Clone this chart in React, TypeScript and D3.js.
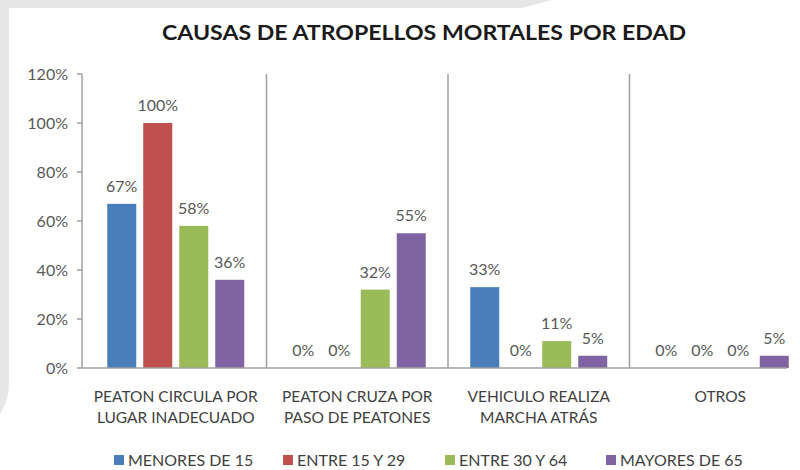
import React, { useEffect } from "react";
import * as d3 from "d3";

const TITLE = "CAUSAS DE ATROPELLOS MORTALES POR EDAD";
const categories = [
  ["PEATON CIRCULA POR", "LUGAR INADECUADO"],
  ["PEATON CRUZA POR", "PASO DE PEATONES"],
  ["VEHICULO REALIZA", "MARCHA ATRÁS"],
  ["OTROS"],
];
const seriesNames = ["MENORES DE 15", "ENTRE 15 Y 29", "ENTRE 30 Y 64", "MAYORES DE 65"];
const seriesColors = ["#4A7EBB", "#C0504D", "#9BBB59", "#8064A2"];
const menores15 = [67, 0, 33, 0];
const entre15y29 = [100, 0, 0, 0];
const entre30y64 = [58, 32, 11, 0];
const mayores65 = [36, 55, 5, 5];
const seriesValues = [menores15, entre15y29, entre30y64, mayores65];
const yTicks = [0, 20, 40, 60, 80, 100, 120];

const W = 800;
const H = 470;
const plot = { left: 85, right: 811, top: 74, bottom: 368 };
const axisX = 82;
const legendX = [114, 283, 445, 606];
const FONT = "Lato, 'Open Sans', sans-serif";

export default function App() {
  useEffect(() => {
    document.body.style.margin = "0";
  }, []);

  const x0 = d3.scaleBand<number>().domain(d3.range(categories.length)).range([plot.left, plot.right]).padding(0);
  const x1 = d3
    .scaleBand<number>()
    .domain(d3.range(seriesNames.length))
    .range([0, x0.bandwidth()])
    .paddingInner(0.194)
    .paddingOuter(0.618);
  const y = d3.scaleLinear().domain([0, 120]).range([plot.bottom, plot.top]);

  return (
    <svg width={W} height={H} style={{ display: "block", background: "#fff" }} fontFamily={FONT}>
      <path d="M0,0 H552 L522,8 H9 V386 Q9,400 0,414 Z" fill="#e7e7e7" />
      <text x={424} y={40} textAnchor="middle" fontSize={21} fontWeight="bold" fill="#1a1a1a" textLength={524} lengthAdjust="spacingAndGlyphs">
        {TITLE}
      </text>

      {/* y axis */}
      <line x1={axisX} x2={axisX} y1={y(120)} y2={y(0)} stroke="#a0a0a0" strokeWidth={1.5} />
      {yTicks.map((t) => (
        <g key={t}>
          <line x1={axisX - 5} x2={axisX} y1={y(t)} y2={y(t)} stroke="#a0a0a0" strokeWidth={1.5} />
          <text x={68} y={y(t)} dy="0.35em" textAnchor="end" fontSize={16} fill="#595959">
            {t}%
          </text>
        </g>
      ))}

      {/* separators */}
      {d3.range(1, categories.length).map((i) => (
        <line key={i} x1={x0(i)!} x2={x0(i)!} y1={y(120)} y2={y(0)} stroke="#a0a0a0" strokeWidth={1.5} />
      ))}

      {/* bars */}
      {seriesValues.map((vals, s) =>
        vals.map((v, c) => {
          const bx = x0(c)! + x1(s)!;
          return (
            <g key={`${s}-${c}`}>
              {v > 0 && (
                <rect x={bx} y={y(v)} width={x1.bandwidth()} height={y(0) - y(v)} fill={seriesColors[s]} />
              )}
              <text x={bx + x1.bandwidth() / 2} y={y(v) - 12} textAnchor="middle" fontSize={16} fill="#595959">
                {v}%
              </text>
            </g>
          );
        })
      )}

      {/* x axis */}
      <line x1={axisX} x2={787} y1={y(0)} y2={y(0)} stroke="#a0a0a0" strokeWidth={1.5} />

      {/* category labels */}
      {categories.map((lines, c) => (
        <text key={c} x={x0(c)! + x0.bandwidth() / 2} y={402} textAnchor="middle" fontSize={15.5} fill="#3f3f3f">
          {lines.map((l, i) => (
            <tspan key={i} x={x0(c)! + x0.bandwidth() / 2} y={402 + i * 21}>
              {l}
            </tspan>
          ))}
        </text>
      ))}

      {/* legend */}
      {seriesNames.map((n, s) => (
        <g key={n} transform={`translate(${legendX[s]},460)`}>
          <rect x={0} y={-5} width={10} height={10} fill={seriesColors[s]} />
          <text x={14} y={0} dy="0.35em" fontSize={16} fill="#3f3f3f">
            {n}
          </text>
        </g>
      ))}
    </svg>
  );
}
